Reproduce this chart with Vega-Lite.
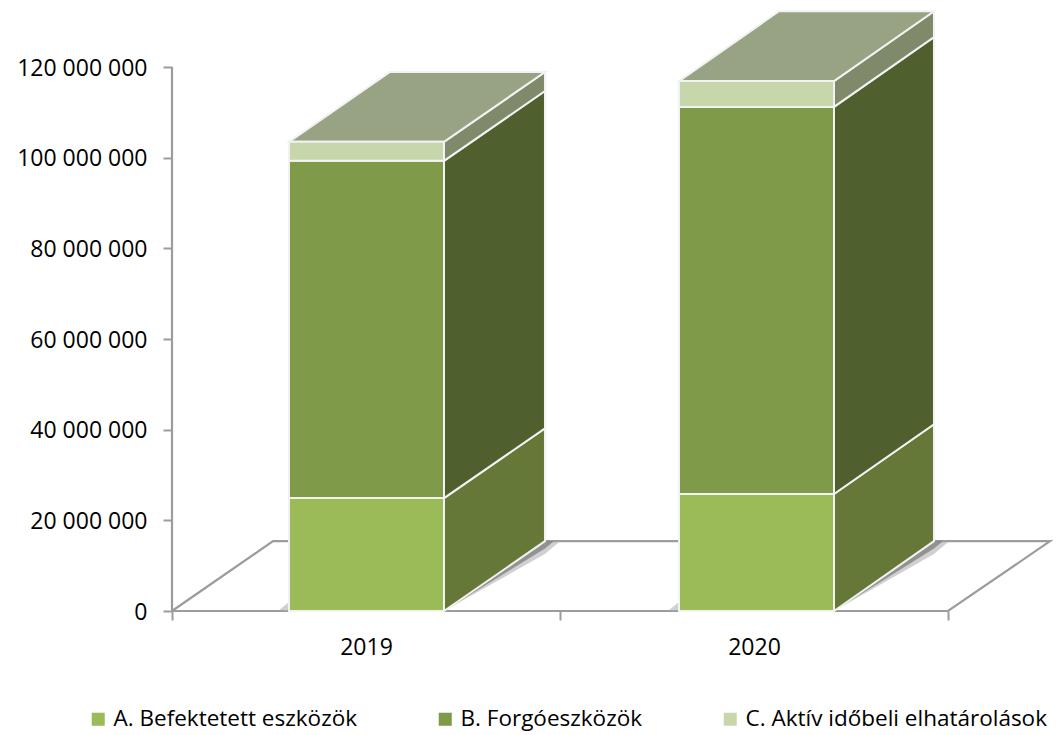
{
"$schema":"https://vega.github.io/schema/vega-lite/v6.json",
"width":878,"height":606,
"autosize":{"type":"none"},
"padding":{"left":172,"top":5,"right":13,"bottom":124},
"background":"white",
"config":{"font":"Open Sans","view":{"stroke":null}},
"datasets":{
"floor":[
{"seq":1,"x":0,"y":0},
{"seq":2,"x":0.2603,"y":15400000},
{"seq":3,"x":2.2629,"y":15400000},
{"seq":4,"x":2,"y":0},
{"seq":5,"x":0,"y":0}],
"shadow":[
{"bar":"2019r","x":0.701,"lo":0,"hi":0},
{"bar":"2019r","x":0.9613,"lo":12600000,"hi":15400000},
{"bar":"2019r","x":1.0,"lo":15400000,"hi":15400000},
{"bar":"2020r","x":1.7062,"lo":0,"hi":0},
{"bar":"2020r","x":1.9639,"lo":12600000,"hi":15400000},
{"bar":"2020r","x":2.003,"lo":15400000,"hi":15400000},
{"bar":"2019l","x":0.273,"lo":0,"hi":0},
{"bar":"2019l","x":0.3015,"lo":0,"hi":2000000},
{"bar":"2020l","x":1.278,"lo":0,"hi":0},
{"bar":"2020l","x":1.3067,"lo":0,"hi":2000000}],
"shadowInner":[
{"bar":"2019r","x":0.701,"lo":0,"hi":0},
{"bar":"2019r","x":0.9613,"lo":13800000,"hi":15400000},
{"bar":"2019r","x":0.984,"lo":15400000,"hi":15400000},
{"bar":"2020r","x":1.7062,"lo":0,"hi":0},
{"bar":"2020r","x":1.9639,"lo":13800000,"hi":15400000},
{"bar":"2020r","x":1.987,"lo":15400000,"hi":15400000}],
"front":[
{"year":"2019","series":"A. Befektetett eszközök","x0":0.3015,"x1":0.701,"low":0,"high":24900000},
{"year":"2019","series":"B. Forgóeszközök","x0":0.3015,"x1":0.701,"low":24900000,"high":99300000},
{"year":"2019","series":"C. Aktív időbeli elhatárolások","x0":0.3015,"x1":0.701,"low":99300000,"high":103500000},
{"year":"2020","series":"A. Befektetett eszközök","x0":1.3067,"x1":1.7062,"low":0,"high":25800000},
{"year":"2020","series":"B. Forgóeszközök","x0":1.3067,"x1":1.7062,"low":25800000,"high":111200000},
{"year":"2020","series":"C. Aktív időbeli elhatárolások","x0":1.3067,"x1":1.7062,"low":111200000,"high":116900000}],
"side":[
{"year":"2019","series":"A. Befektetett eszközök","x":0.701,"low":0,"high":24900000},
{"year":"2019","series":"A. Befektetett eszközök","x":0.9613,"low":15400000,"high":40300000},
{"year":"2019","series":"B. Forgóeszközök","x":0.701,"low":24900000,"high":99300000},
{"year":"2019","series":"B. Forgóeszközök","x":0.9613,"low":40300000,"high":114700000},
{"year":"2019","series":"C. Aktív időbeli elhatárolások","x":0.701,"low":99300000,"high":103500000},
{"year":"2019","series":"C. Aktív időbeli elhatárolások","x":0.9613,"low":114700000,"high":118900000},
{"year":"2020","series":"A. Befektetett eszközök","x":1.7062,"low":0,"high":25800000},
{"year":"2020","series":"A. Befektetett eszközök","x":1.9639,"low":15400000,"high":41200000},
{"year":"2020","series":"B. Forgóeszközök","x":1.7062,"low":25800000,"high":111200000},
{"year":"2020","series":"B. Forgóeszközök","x":1.9639,"low":41200000,"high":126600000},
{"year":"2020","series":"C. Aktív időbeli elhatárolások","x":1.7062,"low":111200000,"high":116900000},
{"year":"2020","series":"C. Aktív időbeli elhatárolások","x":1.9639,"low":126600000,"high":132300000}],
"top":[
{"year":"2019","x":0.3015,"low":103500000,"high":103500000},
{"year":"2019","x":0.5618,"low":103500000,"high":118900000},
{"year":"2019","x":0.701,"low":103500000,"high":118900000},
{"year":"2019","x":0.9613,"low":118900000,"high":118900000},
{"year":"2020","x":1.3067,"low":116900000,"high":116900000},
{"year":"2020","x":1.5644,"low":116900000,"high":132300000},
{"year":"2020","x":1.7062,"low":116900000,"high":132300000},
{"year":"2020","x":1.9639,"low":132300000,"high":132300000}]
},
"layer":[
{"data":{"name":"floor"},"mark":{"type":"line","color":"#9c9c9c","strokeWidth":2.2,"clip":false},
 "encoding":{
  "x":{"field":"x","type":"quantitative","title":null,"scale":{"domain":[0,2.2629],"nice":false,"zero":false},
   "axis":{"values":[0,0.5,1,1.5,2],"domain":false,"grid":false,"tickColor":"#9c9c9c","tickWidth":2,"tickSize":9,
     "tickOpacity":{"condition":{"test":"datum.value==0.5||datum.value==1.5","value":0},"value":1},
     "labelExpr":"datum.value==0.5?'2019':datum.value==1.5?'2020':''","labelFontSize":23,"labelColor":"#000000","labelPadding":16,"labelFlush":false,"labelOverlap":false}},
  "y":{"field":"y","type":"quantitative","title":null,"scale":{"domain":[0,133680000],"nice":false},
   "axis":{"values":[0,20000000,40000000,60000000,80000000,100000000,120000000],"domain":false,"grid":false,"tickColor":"#9c9c9c","tickWidth":2,"tickSize":9,
     "labelExpr":"replace(format(datum.value,','),/,/g,' ')","labelFontSize":23,"labelColor":"#000000","labelPadding":16,"labelOffset":1}},
  "order":{"field":"seq","type":"ordinal"}}},
{"data":{"values":[{"x":0,"y":0,"y2":120000000}]},"mark":{"type":"rule","color":"#9c9c9c","strokeWidth":2.2},
 "encoding":{"x":{"field":"x","type":"quantitative"},"y":{"field":"y","type":"quantitative"},"y2":{"field":"y2"}}},
{"data":{"name":"shadow"},"mark":{"type":"area","color":"#aaaaaa","opacity":0.55},
 "encoding":{"x":{"field":"x","type":"quantitative"},"y":{"field":"lo","type":"quantitative","stack":null},"y2":{"field":"hi"},"detail":{"field":"bar"}}},
{"data":{"name":"shadowInner"},"mark":{"type":"area","color":"#777777","opacity":0.7},
 "encoding":{"x":{"field":"x","type":"quantitative"},"y":{"field":"lo","type":"quantitative","stack":null},"y2":{"field":"hi"},"detail":{"field":"bar"}}},
{"data":{"name":"side"},"mark":{"type":"area","stroke":"#f2f2f2","strokeWidth":2},
 "encoding":{"x":{"field":"x","type":"quantitative"},"y":{"field":"low","type":"quantitative","stack":null},"y2":{"field":"high"},
  "detail":{"field":"year"},
  "color":{"field":"series","type":"nominal","legend":null,"scale":{"domain":["A. Befektetett eszközök","B. Forgóeszközök","C. Aktív időbeli elhatárolások"],"range":["#667838","#4f602e","#7f8a6a"]}}}},
{"data":{"name":"top"},"mark":{"type":"area","color":"#98a383","stroke":"#f2f2f2","strokeWidth":2},
 "encoding":{"x":{"field":"x","type":"quantitative"},"y":{"field":"low","type":"quantitative","stack":null},"y2":{"field":"high"},"detail":{"field":"year"}}},
{"data":{"name":"front"},"mark":{"type":"rect","stroke":"#f2f2f2","strokeWidth":2},
 "encoding":{"x":{"field":"x0","type":"quantitative"},"x2":{"field":"x1"},"y":{"field":"low","type":"quantitative"},"y2":{"field":"high"},
  "color":{"field":"series","type":"nominal","scale":{"domain":["A. Befektetett eszközök","B. Forgóeszközök","C. Aktív időbeli elhatárolások"],"range":["#9bbb59","#7f9a48","#c8d7ab"]},
   "legend":{"title":null,"orient":"none","legendX":-85,"legendY":703,"direction":"horizontal","columns":3,"gridAlign":"none","columnPadding":76,"symbolType":"square","symbolSize":170,"symbolStrokeWidth":0,"labelFontSize":22.5,"labelColor":"#000000","labelOffset":4,"labelLimit":500}}}}
],
"resolve":{"scale":{"color":"independent"}}
}
